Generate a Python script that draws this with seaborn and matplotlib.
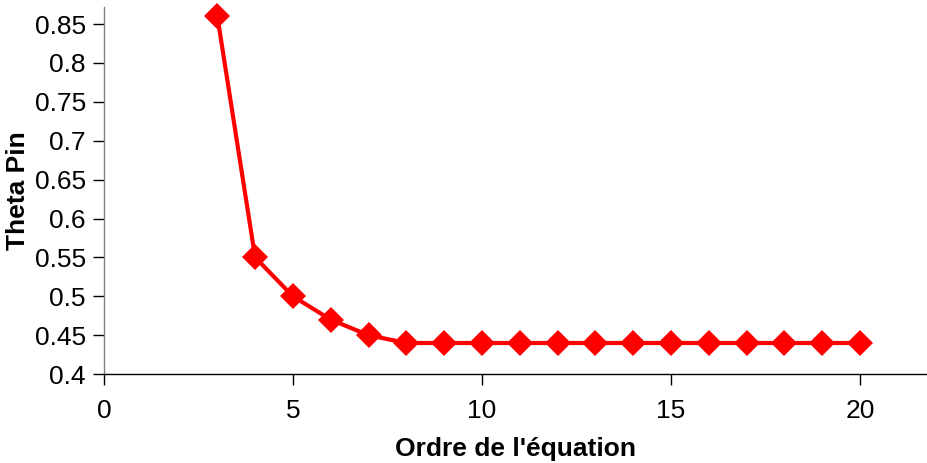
import numpy as np
import pandas as pd
import matplotlib
matplotlib.use("Agg")
import matplotlib.pyplot as plt
import seaborn as sns

# data
ordre = [3, 4, 5, 6, 7, 8, 9, 10, 11, 12, 13, 14, 15, 16, 17, 18, 19, 20]
theta_pin = [0.86, 0.55, 0.50, 0.47, 0.45, 0.44, 0.44, 0.44, 0.44, 0.44,
             0.44, 0.44, 0.44, 0.44, 0.44, 0.44, 0.44, 0.44]
x_ticks = [0, 5, 10, 15, 20]
y_ticks = [0.4, 0.45, 0.5, 0.55, 0.6, 0.65, 0.7, 0.75, 0.8, 0.85]

df = pd.DataFrame({"ordre": ordre, "theta": theta_pin})

sns.set_style("white")
plt.rcParams['font.family'] = ['Liberation Sans', 'DejaVu Sans']

fig = plt.figure(figsize=(9.28, 4.63), dpi=100)
ax = fig.add_axes([0.112, 0.192, 0.888, 0.793])

sns.lineplot(data=df, x="ordre", y="theta", ax=ax, color="#ff0000",
             linewidth=3, marker="D", markersize=13, markeredgewidth=0,
             clip_on=False)

ax.set_xlim(0, 21.8)
ax.set_ylim(0.4, 0.872)
ax.set_xticks(x_ticks)
ax.set_yticks(y_ticks)
ax.set_yticklabels([f"{v:g}" for v in y_ticks])
ax.tick_params(axis="both", direction="out", length=8, width=1,
               labelsize=19, colors="black", labelcolor="black",
               left=True, bottom=True, pad=5)
ax.tick_params(axis="x", pad=10)

sns.despine(ax=ax)
ax.spines["left"].set_color("#808080")
ax.spines["bottom"].set_color("black")
ax.spines["left"].set_linewidth(1)
ax.spines["bottom"].set_linewidth(1)

ax.set_xlabel("Ordre de l'équation", fontsize=19, fontweight="bold",
              color="black", labelpad=10)
ax.set_ylabel("Theta Pin", fontsize=19, fontweight="bold",
              color="black", labelpad=3)

fig.savefig("out.png", dpi=100)
